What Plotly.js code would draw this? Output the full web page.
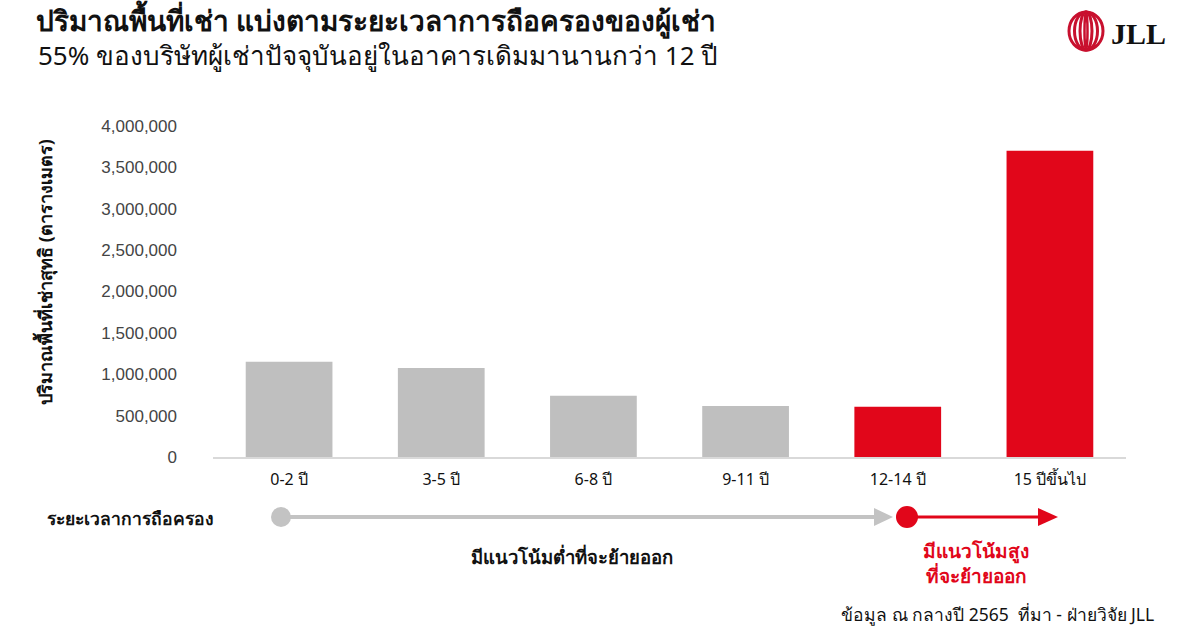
<!DOCTYPE html>
<html>
<head>
<meta charset="utf-8">
<script src="https://cdn.plot.ly/plotly-3.0.1.min.js"></script>
<style>html,body{margin:0;padding:0;background:#fff;}#chart{width:1200px;height:643px;}</style>
</head>
<body>
<div id="chart"></div>
<script>
// ---- data ----
const categories = ['0-2 ปี', '3-5 ปี', '6-8 ปี', '9-11 ปี', '12-14 ปี', '15 ปีขึ้นไป'];
const areaValues = [1150000, 1075000, 740000, 615000, 608000, 3700000];
const barColors = ['#bfbfbf', '#bfbfbf', '#bfbfbf', '#bfbfbf', '#e1061a', '#e1061a'];
const yTickVals = [0, 500000, 1000000, 1500000, 2000000, 2500000, 3000000, 3500000, 4000000];
const yTickText = ['0', '500,000', '1,000,000', '1,500,000', '2,000,000', '2,500,000', '3,000,000', '3,500,000', '4,000,000'];

const titleText = 'ปริมาณพื้นที่เช่า แบ่งตามระยะเวลาการถือครองของผู้เช่า';
const subtitleText = '55% ของบริษัทผู้เช่าปัจจุบันอยู่ในอาคารเดิมมานานกว่า 12 ปี';
const yAxisTitle = 'ปริมาณพื้นที่เช่าสุทธิ (ตารางเมตร)';
const timelineLabel = 'ระยะเวลาการถือครอง';
const lowText = 'มีแนวโน้มต่ำที่จะย้ายออก';
const highText = 'มีแนวโน้มสูง<br>ที่จะย้ายออก';
const sourceText = 'ข้อมูล ณ กลางปี 2565  ที่มา - ฝ่ายวิจัย JLL';

// ---- layout geometry ----
const W = 1200, H = 643;
const L = 213, R = 1126, T = 126, B = 457;
const px = x => (x - L) / (R - L);
const py = y => (B - y) / (B - T);
const RED = '#e1061a', GRAY = '#c3c3c3';
const thaiFont = '"Noto Sans", "Liberation Sans", Tahoma, sans-serif';

const trace = {
  type: 'bar',
  x: categories,
  y: areaValues,
  marker: {color: barColors, line: {width: 0}},
  hoverinfo: 'x+y'
};

function circle(cx, cy, r, color) {
  return {type: 'circle', xref: 'paper', yref: 'paper',
    x0: px(cx - r), x1: px(cx + r), y0: py(cy + r), y1: py(cy - r),
    fillcolor: color, line: {width: 0}};
}
function tri(x0, x1, cy, h, color) {
  return {type: 'path', xref: 'paper', yref: 'paper',
    path: `M ${px(x0)} ${py(cy - h)} L ${px(x1)} ${py(cy)} L ${px(x0)} ${py(cy + h)} Z`,
    fillcolor: color, line: {width: 0}};
}
function hline(x0, x1, y, color, w) {
  return {type: 'line', xref: 'paper', yref: 'paper',
    x0: px(x0), x1: px(x1), y0: py(y), y1: py(y), line: {color: color, width: w}};
}
function ellipse(cx, cy, rw, rh, color, w) {
  return {type: 'circle', xref: 'paper', yref: 'paper',
    x0: px(cx - rw), x1: px(cx + rw), y0: py(cy + rh), y1: py(cy - rh),
    line: {color: color, width: w}};
}

const shapes = [
  hline(281, 878, 517, GRAY, 4),
  tri(874, 893, 517, 9, GRAY),
  circle(281, 517, 10, GRAY),
  hline(907, 1042, 517, RED, 3),
  tri(1038, 1058, 517, 9, RED),
  circle(907, 517, 11, RED),
  // logo
  ellipse(1086, 31, 17, 19, '#c8102e', 3),
  ellipse(1086, 31, 11.5, 19, '#c8102e', 3),
  ellipse(1086, 31, 6, 19, '#c8102e', 3),
  ellipse(1086, 31, 1.5, 19, '#c8102e', 2.5)
];

const annotations = [
  {xref: 'paper', yref: 'paper', x: px(36), y: py(55), xanchor: 'left', yanchor: 'middle',
   text: subtitleText, showarrow: false, font: {family: thaiFont, size: 26, color: '#111'}},
  {xref: 'paper', yref: 'paper', x: px(45), y: py(272), xanchor: 'center', yanchor: 'middle',
   textangle: -90, text: '<b>' + yAxisTitle + '</b>', showarrow: false,
   font: {family: thaiFont, size: 18, color: '#111'}},
  {xref: 'paper', yref: 'paper', x: px(45), y: py(518), xanchor: 'left', yanchor: 'middle',
   text: '<b>' + timelineLabel + '</b>', showarrow: false, font: {family: thaiFont, size: 17.5, color: '#111'}},
  {xref: 'paper', yref: 'paper', x: px(572), y: py(556), xanchor: 'center', yanchor: 'middle',
   text: '<b>' + lowText + '</b>', showarrow: false, font: {family: thaiFont, size: 18.5, color: '#111'}},
  {xref: 'paper', yref: 'paper', x: px(976), y: py(563), xanchor: 'center', yanchor: 'middle',
   text: '<b>' + highText + '</b>', showarrow: false, font: {family: thaiFont, size: 19, color: RED}},
  {xref: 'paper', yref: 'paper', x: px(1156), y: py(614), xanchor: 'right', yanchor: 'middle',
   text: sourceText, showarrow: false, font: {family: thaiFont, size: 17.5, color: '#111'}},
  {xref: 'paper', yref: 'paper', x: px(1109), y: py(33), xanchor: 'left', yanchor: 'middle',
   text: '<b>JLL</b>', showarrow: false, font: {family: '"Liberation Serif", "DejaVu Serif", serif', size: 30, color: '#111'}}
];

const layout = {
  width: W, height: H,
  margin: {l: L, r: W - R, t: T, b: H - B, pad: 0},
  paper_bgcolor: '#fff', plot_bgcolor: '#fff',
  showlegend: false,
  bargap: 0.43,
  title: {text: '<b>' + titleText + '</b>', x: 36 / W, xanchor: 'left', xref: 'container',
          y: 1 - 21 / H, yanchor: 'middle', yref: 'container',
          font: {family: thaiFont, size: 28, color: '#111'}},
  xaxis: {
    type: 'category', showgrid: false, zeroline: false,
    showline: true, linecolor: '#d9d9d9', linewidth: 2,
    ticks: '', ticklabelstandoff: 7,
    tickfont: {family: thaiFont, size: 16, color: '#111'}
  },
  yaxis: {
    range: [0, 4000000], showgrid: false, zeroline: false, showline: false,
    tickmode: 'array', tickvals: yTickVals, ticktext: yTickText,
    ticks: '', ticklabelstandoff: 35,
    tickfont: {family: '"Liberation Sans", Arial, sans-serif', size: 17, color: '#444'}
  },
  shapes: shapes,
  annotations: annotations
};

Plotly.newPlot('chart', [trace], layout, {displayModeBar: false, staticPlot: true});
</script>
</body>
</html>
